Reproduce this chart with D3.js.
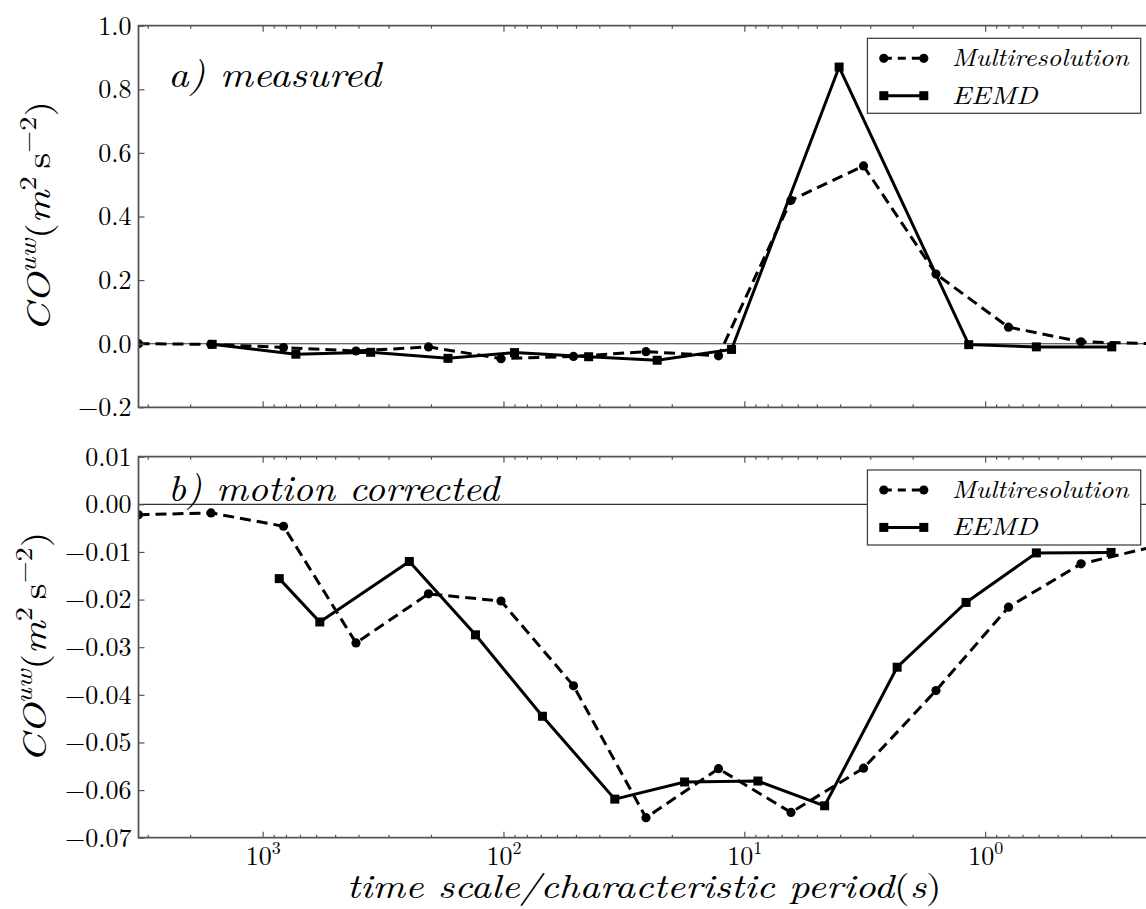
<!DOCTYPE html>
<html>
<head>
<meta charset="utf-8">
<script src="https://cdn.jsdelivr.net/npm/d3@7"></script>
<style>
  body { margin: 0; background: #fff; }
  svg { display: block; }
</style>
</head>
<body>
<script>
// Dyadic multiresolution scales (s)
const mrPeriods = [3276.8, 1638.4, 819.2, 409.6, 204.8, 102.4, 51.2, 25.6, 12.8, 6.4, 3.2, 1.6, 0.8, 0.4, 0.2];
// Cospectra of u and w, measured
const mrMeasured = [0.0, -0.002, -0.012, -0.023, -0.010, -0.047, -0.040, -0.025, -0.038, 0.451, 0.559, 0.219, 0.052, 0.006, 0.0];
const eemdPeriodsMeasured = [1620, 728, 356, 170, 90, 44.3, 23.0, 11.3, 4.04, 1.17, 0.613, 0.298];
const eemdMeasured = [-0.002, -0.033, -0.027, -0.046, -0.028, -0.041, -0.052, -0.018, 0.870, -0.003, -0.010, -0.010];
// Cospectra of u and w, motion corrected
const mrCorrected = [-0.0022, -0.0018, -0.0046, -0.0291, -0.0188, -0.0203, -0.0381, -0.0658, -0.0555, -0.0647, -0.0554, -0.0391, -0.0216, -0.0125, -0.0089];
const eemdPeriodsCorrected = [853, 579, 246, 130.7, 68.9, 34.5, 17.7, 8.78, 4.64, 2.32, 1.20, 0.613, 0.300];
const eemdCorrected = [-0.0156, -0.0247, -0.0120, -0.0274, -0.0445, -0.0619, -0.0583, -0.0581, -0.0633, -0.0342, -0.0206, -0.0102, -0.0101];

// Axis ticks
const xMajorTicks = [1000, 100, 10, 1];
const xTickExponents = ["3", "2", "1", "0"];
const yTicksMeasured = [-0.2, 0.0, 0.2, 0.4, 0.6, 0.8, 1.0];
const yTicksCorrected = [-0.07, -0.06, -0.05, -0.04, -0.03, -0.02, -0.01, 0.00, 0.01];
const legendNames = ["Multiresolution", "EEMD"];

const FONT = '"Latin Modern Roman", "CMU Serif", "Liberation Serif", serif';
const W = 1146, H = 909;
const left = 138.5, right = 1153.5;
const panels = [
  { top: 25.7, bottom: 407.3, domain: [-0.2, 1.0], ticks: yTicksMeasured, fmt: d3.format(".1f"),
    mr: mrMeasured, ep: eemdPeriodsMeasured, ev: eemdMeasured, label: "a) measured",
    labelX: 168, labelY: 87, labelLen: 213, showX: false, ylabX: 50 },
  { top: 456.7, bottom: 837.7, domain: [-0.07, 0.01], ticks: yTicksCorrected, fmt: d3.format(".2f"),
    mr: mrCorrected, ep: eemdPeriodsCorrected, ev: eemdCorrected, label: "b) motion corrected",
    labelX: 168, labelY: 501, labelLen: 331, showX: true, ylabX: 46 }
];

const svg = d3.select("body").append("svg").attr("width", W).attr("height", H);

const x = d3.scaleLog().domain([3276.8, 0.2]).range([left, right]);

// minor ticks: 2..9 times each decade
const xMinorTicks = [];
for (let e = -1; e <= 3; e++) for (let m = 2; m <= 9; m++) {
  const v = m * Math.pow(10, e);
  if (v <= 3276.8 && v >= 0.2) xMinorTicks.push(v);
}

const spineColor = "#555";
const fmtMinus = f => (d => f(d).replace("-", "\u2212"));

panels.forEach((p, i) => {
  const y = d3.scaleLinear().domain(p.domain).range([p.bottom, p.top]);
  const g = svg.append("g");
  const clipId = "clip" + i;
  svg.append("clipPath").attr("id", clipId)
    .append("rect").attr("x", left).attr("y", p.top).attr("width", right - left).attr("height", p.bottom - p.top);

  // zero reference line
  g.append("line")
    .attr("x1", left).attr("x2", right).attr("y1", y(0)).attr("y2", y(0))
    .attr("stroke", "#333").attr("stroke-width", 1.1);

  const data = g.append("g").attr("clip-path", `url(#${clipId})`);
  const line = d3.line().x(d => x(d[0])).y(d => y(d[1]));

  const mrPts = mrPeriods.map((t, k) => [t, p.mr[k]]);
  const ePts = p.ep.map((t, k) => [t, p.ev[k]]);

  data.append("path").datum(mrPts).attr("d", line)
    .attr("fill", "none").attr("stroke", "#000").attr("stroke-width", 3)
    .attr("stroke-dasharray", "11,6");
  data.selectAll(".mrdot").data(mrPts).enter().append("circle")
    .attr("cx", d => x(d[0])).attr("cy", d => y(d[1])).attr("r", 4.6).attr("fill", "#000");

  data.append("path").datum(ePts).attr("d", line)
    .attr("fill", "none").attr("stroke", "#000").attr("stroke-width", 3);
  data.selectAll(".esq").data(ePts).enter().append("rect")
    .attr("x", d => x(d[0]) - 4.5).attr("y", d => y(d[1]) - 4.5)
    .attr("width", 9).attr("height", 9).attr("fill", "#000");

  // axes (inward ticks)
  const styleAxis = sel => {
    sel.select(".domain").remove();
    sel.selectAll(".tick line").attr("stroke", spineColor).attr("stroke-width", 1.2);
  };
  const bottomMajor = g.append("g").attr("transform", `translate(0,${p.bottom})`)
    .call(d3.axisBottom(x).tickValues(xMajorTicks).tickSize(-6).tickFormat(() => ""));
  styleAxis(bottomMajor);
  const bottomMinor = g.append("g").attr("transform", `translate(0,${p.bottom})`)
    .call(d3.axisBottom(x).tickValues(xMinorTicks).tickSize(-3).tickFormat(() => ""));
  styleAxis(bottomMinor);
  const topMajor = g.append("g").attr("transform", `translate(0,${p.top})`)
    .call(d3.axisTop(x).tickValues(xMajorTicks).tickSize(-6).tickFormat(() => ""));
  styleAxis(topMajor);
  const topMinor = g.append("g").attr("transform", `translate(0,${p.top})`)
    .call(d3.axisTop(x).tickValues(xMinorTicks).tickSize(-3).tickFormat(() => ""));
  styleAxis(topMinor);

  const yAxis = g.append("g").attr("transform", `translate(${left},0)`)
    .call(d3.axisLeft(y).tickValues(p.ticks).tickSize(-6).tickPadding(7).tickFormat(fmtMinus(p.fmt)));
  styleAxis(yAxis);
  yAxis.selectAll(".tick text").style("font-family", FONT).style("font-size", "26px").attr("fill", "#000");

  if (p.showX) {
    bottomMajor.selectAll(".tick text").each(function (d, k) {
      const t = d3.select(this).text(null).attr("dy", null).attr("y", 27)
        .style("font-family", FONT).style("font-size", "26px").attr("fill", "#000")
        .attr("text-anchor", "middle");
      t.append("tspan").text("10");
      t.append("tspan").style("font-size", "18px").attr("dy", -11).text(xTickExponents[k]);
    });
  }

  // spines
  g.append("path")
    .attr("d", `M${right},${p.top}H${left}V${p.bottom}H${right}`)
    .attr("fill", "none").attr("stroke", spineColor).attr("stroke-width", 1.8);

  // panel title
  g.append("text").attr("x", p.labelX).attr("y", p.labelY)
    .style("font-family", FONT).style("font-size", "37px").style("font-style", "italic")
    .attr("textLength", p.labelLen).attr("lengthAdjust", "spacingAndGlyphs")
    .text(p.label);

  // y-axis label
  const cy = (p.top + p.bottom) / 2;
  const yl = g.append("text")
    .attr("transform", `translate(${p.ylabX},${cy}) rotate(-90)`)
    .attr("text-anchor", "middle")
    .style("font-family", FONT).style("font-size", "34px")
    .attr("textLength", 231).attr("lengthAdjust", "spacingAndGlyphs");
  yl.append("tspan").style("font-style", "italic").text("CO");
  yl.append("tspan").style("font-style", "italic").style("font-size", "24px").attr("dy", -14).text("uw");
  yl.append("tspan").attr("dy", 14).text("(");
  yl.append("tspan").style("font-style", "italic").text("m");
  yl.append("tspan").style("font-size", "24px").attr("dy", -14).text("2");
  yl.append("tspan").attr("dy", 14).text("\u2009s");
  yl.append("tspan").style("font-size", "24px").attr("dy", -14).text("\u22122");
  yl.append("tspan").attr("dy", 14).text(")");

  // legend
  const lx0 = 867.4, lx1 = 1140.7;
  const ly0 = p.top + (i === 0 ? 12.6 : 13.3);
  const lg = g.append("g");
  lg.append("rect").attr("x", lx0).attr("y", ly0).attr("width", lx1 - lx0).attr("height", 75)
    .attr("fill", "#fff").attr("stroke", "#444").attr("stroke-width", 1.3);
  const rows = [ly0 + 20, ly0 + 57.4];
  const textLens = [177, 86];
  legendNames.forEach((name, r) => {
    const ry = rows[r];
    lg.append("line").attr("x1", 883.8).attr("x2", 923.8).attr("y1", ry).attr("y2", ry)
      .attr("stroke", "#000").attr("stroke-width", 3)
      .attr("stroke-dasharray", r === 0 ? "8,6" : null);
    [883.8, 923.8].forEach(cx => {
      if (r === 0) lg.append("circle").attr("cx", cx).attr("cy", ry).attr("r", 4.6).attr("fill", "#000");
      else lg.append("rect").attr("x", cx - 4.5).attr("y", ry - 4.5).attr("width", 9).attr("height", 9).attr("fill", "#000");
    });
    lg.append("text").attr("x", 951.7).attr("y", ry + 8)
      .style("font-family", FONT).style("font-size", "25px").style("font-style", "italic")
      .attr("textLength", textLens[r]).attr("lengthAdjust", "spacingAndGlyphs").text(name);
  });
});

// x-axis label
const xl = svg.append("text").attr("x", 346.7).attr("y", 898)
  .style("font-family", FONT).style("font-size", "34px")
  .attr("textLength", 595).attr("lengthAdjust", "spacingAndGlyphs");
xl.append("tspan").style("font-style", "italic").text("time scale/characteristic period");
xl.append("tspan").text("(");
xl.append("tspan").style("font-style", "italic").text("s");
xl.append("tspan").text(")");
</script>
</body>
</html>
